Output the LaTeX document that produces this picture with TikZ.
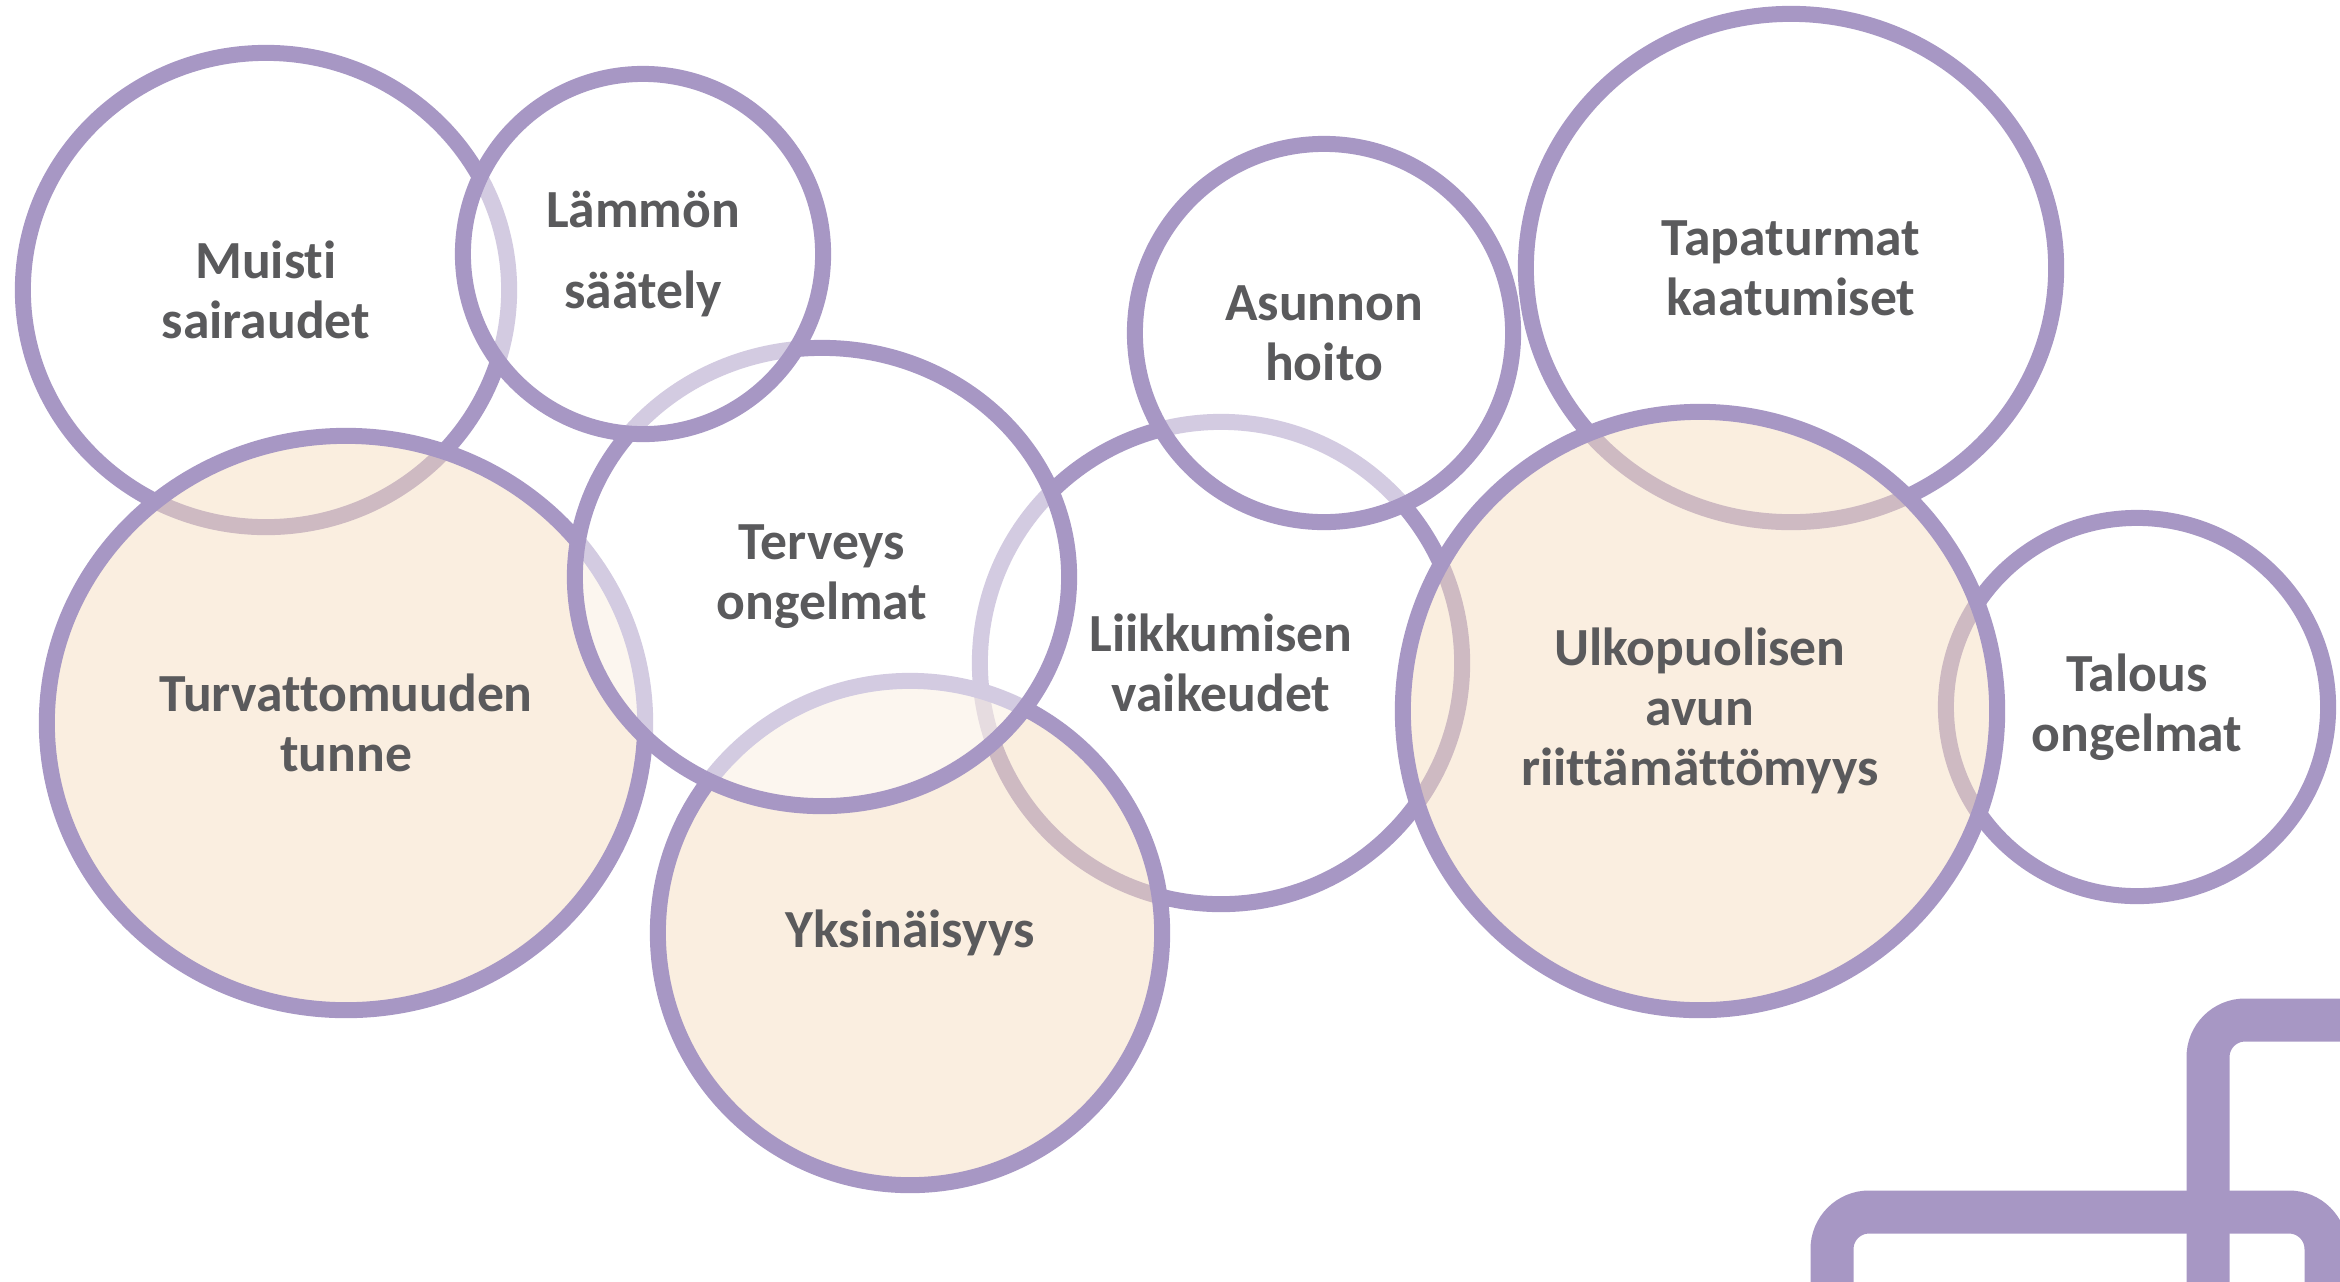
\documentclass[tikz,border=0pt]{standalone}
\usepackage{fontspec}
\setmainfont{Carlito}[Ligatures=NoCommon]
\usepackage{xcolor}
\usepackage{tikz}
\usetikzlibrary{shapes.geometric}
\definecolor{bubbleline}{HTML}{A797C4}
\definecolor{warmfill}{HTML}{F5DDC1}
\definecolor{textgray}{HTML}{5A5A5C}
\tikzset{
    every node/.style={font=\fontsize{15.25}{17}\selectfont\bfseries, text=textgray},
    bubble/.style={ellipse, draw=bubbleline, line width=0.16cm, fill=white,
        fill opacity=0.5, text opacity=1, align=center, inner sep=0pt},
    warm/.style={bubble, fill=warmfill},
    frame/.style={draw=bubbleline, line width=0.43cm, rounded corners=0.37cm}
}

\begin{document}
\begin{tikzpicture}[x=0.01cm, y=-0.01cm]
    \useasboundingbox (0,0) rectangle (2340,1281);
    \clip (0,0) rectangle (2340,1281);

    % Draw the bubbles, back to front
    \node[bubble, minimum width=4.86cm, minimum height=4.74cm] (muisti) at (266,290) {Muisti\\sairaudet};
    \node[bubble, minimum width=4.82cm, minimum height=4.82cm] (liikkuminen) at (1221,663) {Liikkumisen\\vaikeudet};
    \node[warm, minimum width=5.98cm, minimum height=5.74cm] (turva) at (346,723) {Turvattomuuden\\tunne};
    \node[warm, minimum width=5.04cm, minimum height=5.04cm] (yksin) at (910,933) {Yksinäisyys};
    \node[bubble, minimum width=4.94cm, minimum height=4.58cm] (terveys) at (822,577) {Terveys\\ongelmat};
    \node[bubble, minimum width=3.60cm, minimum height=3.60cm,
        font=\fontsize{15.25}{22.8}\selectfont\bfseries] (lampo) at (643,254) {Lämmön\\säätely};
    \node[bubble, minimum width=3.78cm, minimum height=3.78cm] (asunto) at (1324,333) {Asunnon\\hoito};
    \node[bubble, minimum width=5.30cm, minimum height=5.08cm] (tapaturma) at (1791,268) {Tapaturmat\\kaatumiset};
    \node[bubble, minimum width=3.82cm, minimum height=3.78cm] (talous) at (2137,707) {Talous\\ongelmat};
    \node[warm, minimum width=5.94cm, minimum height=5.98cm] (apu) at (1700,711) {Ulkopuolisen\\avun\\riittämättömyys};

    % Draw the corner frames
    \draw[frame] (2208,1600) |- (2700,1020);
    \draw[frame] (1832,1600) |- (2326,1212) -- (2326,1600);
\end{tikzpicture}
\end{document}
